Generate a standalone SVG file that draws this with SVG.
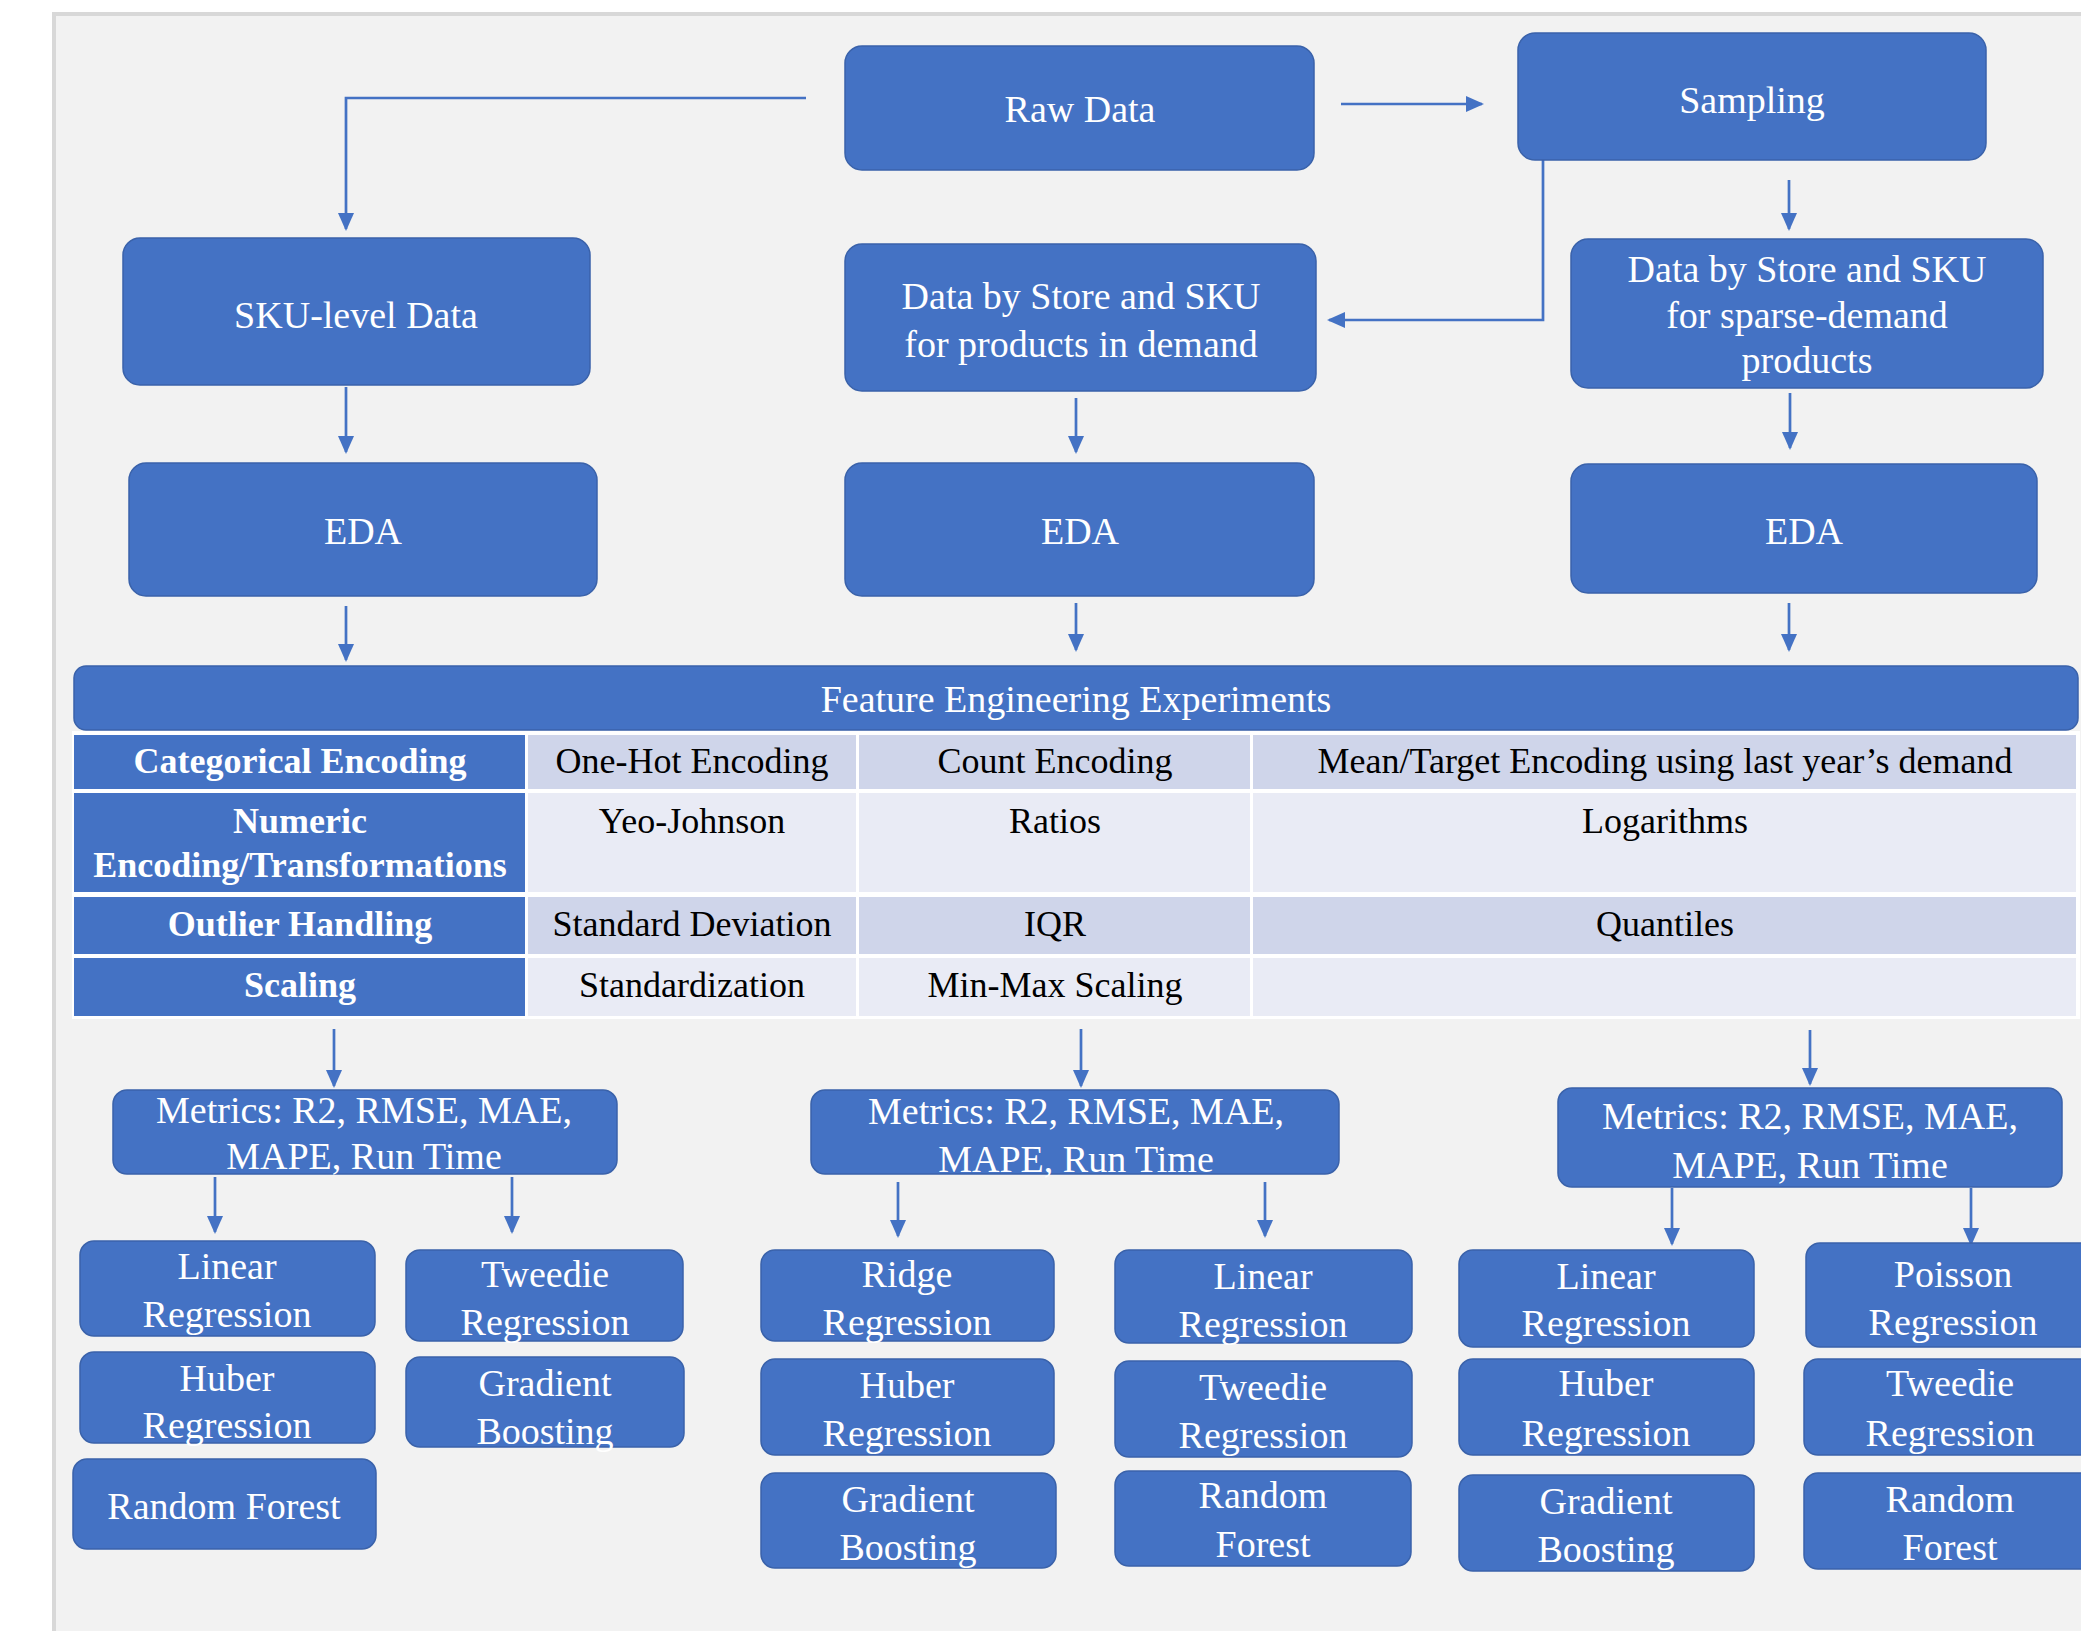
<svg xmlns="http://www.w3.org/2000/svg" width="2081" height="1631" viewBox="0 0 2081 1631">
<style>
.box{fill:#4472c4;stroke:#3a62aa;stroke-width:1.5}
.t{font-family:"Liberation Serif","Times New Roman",serif;font-size:38px;fill:#ffffff;text-anchor:middle}
.tc{font-family:"Liberation Serif","Times New Roman",serif;font-size:36px;fill:#000000;text-anchor:middle}
.th{font-family:"Liberation Serif","Times New Roman",serif;font-size:36px;font-weight:bold;fill:#ffffff;text-anchor:middle}
.hc{fill:#4472c4}
.dk{fill:#cfd5ea}
.lt{fill:#e9ebf5}
.con{fill:none;stroke:#4472c4;stroke-width:2.7;marker-end:url(#ah)}
</style>
<defs>
<marker id="ah" markerUnits="userSpaceOnUse" markerWidth="18" markerHeight="16" viewBox="0 0 18 16" refX="16" refY="8" orient="auto">
<path d="M0,0 L18,8 L0,16 z" fill="#4472c4"/>
</marker>
</defs>
<rect x="0" y="0" width="2081" height="1631" fill="#ffffff"/>
<rect x="54" y="14" width="2100" height="1700" fill="#f2f2f2" stroke="#d8d8d8" stroke-width="4"/>

<g id="connectors">
<path class="con" d="M806,98 H346 V229"/>
<path class="con" d="M1341,104 H1482"/>
<path class="con" d="M1543,160 V320 H1329"/>
<path class="con" d="M1789,180 V229"/>
<path class="con" d="M346,387 V452"/>
<path class="con" d="M1076,398 V452"/>
<path class="con" d="M1790,393 V448"/>
<path class="con" d="M346,606 V660"/>
<path class="con" d="M1076,603 V650"/>
<path class="con" d="M1789,603 V650"/>
<path class="con" d="M334,1029 V1086"/>
<path class="con" d="M1081,1029 V1086"/>
<path class="con" d="M1810,1030 V1084"/>
<path class="con" d="M215,1177 V1232"/>
<path class="con" d="M512,1177 V1232"/>
<path class="con" d="M898,1182 V1236"/>
<path class="con" d="M1265,1182 V1236"/>
<path class="con" d="M1672,1188 V1244"/>
<path class="con" d="M1971,1188 V1244"/>
</g>

<g id="raw-data">
<rect class="box" x="845" y="46" width="469" height="124" rx="17"/>
<text class="t" x="1080" y="122">Raw Data</text>
</g>
<g id="sampling">
<rect class="box" x="1518" y="33" width="468" height="127" rx="17"/>
<text class="t" x="1752" y="113">Sampling</text>
</g>
<g id="sku-level-data">
<rect class="box" x="123" y="238" width="467" height="147" rx="17"/>
<text class="t" x="356" y="328">SKU-level Data</text>
</g>
<g id="store-sku-demand">
<rect class="box" x="845" y="244" width="471" height="147" rx="17"/>
<text class="t" x="1081" y="309">Data by Store and SKU</text>
<text class="t" x="1081" y="357">for products in demand</text>
</g>
<g id="store-sku-sparse">
<rect class="box" x="1571" y="239" width="472" height="149" rx="17"/>
<text class="t" x="1807" y="282">Data by Store and SKU</text>
<text class="t" x="1807" y="328">for sparse-demand</text>
<text class="t" x="1807" y="373">products</text>
</g>
<g id="eda-1">
<rect class="box" x="129" y="463" width="468" height="133" rx="17"/>
<text class="t" x="363" y="544">EDA</text>
</g>
<g id="eda-2">
<rect class="box" x="845" y="463" width="469" height="133" rx="17"/>
<text class="t" x="1080" y="544">EDA</text>
</g>
<g id="eda-3">
<rect class="box" x="1571" y="464" width="466" height="129" rx="17"/>
<text class="t" x="1804" y="544">EDA</text>
</g>

<g id="feature-engineering-table">
<rect x="72" y="731" width="2008" height="288" fill="#ffffff"/>
<rect x="74" y="666" width="2004" height="64" rx="12" fill="#4472c4" stroke="#3a62aa" stroke-width="1.5"/>
<text class="t" x="1076" y="712">Feature Engineering Experiments</text>
<rect class="hc" x="74" y="735" width="451" height="54"/>
<rect class="dk" x="528" y="735" width="328" height="54"/>
<rect class="dk" x="859" y="735" width="391" height="54"/>
<rect class="dk" x="1253" y="735" width="823" height="54"/>
<rect class="hc" x="74" y="793" width="451" height="99"/>
<rect class="lt" x="528" y="793" width="328" height="99"/>
<rect class="lt" x="859" y="793" width="391" height="99"/>
<rect class="lt" x="1253" y="793" width="823" height="99"/>
<rect class="hc" x="74" y="897" width="451" height="57"/>
<rect class="dk" x="528" y="897" width="328" height="57"/>
<rect class="dk" x="859" y="897" width="391" height="57"/>
<rect class="dk" x="1253" y="897" width="823" height="57"/>
<rect class="hc" x="74" y="958" width="451" height="58"/>
<rect class="lt" x="528" y="958" width="328" height="58"/>
<rect class="lt" x="859" y="958" width="391" height="58"/>
<rect class="lt" x="1253" y="958" width="823" height="58"/>
<text class="th" x="300" y="773">Categorical Encoding</text>
<text class="tc" x="692" y="773">One-Hot Encoding</text>
<text class="tc" x="1055" y="773">Count Encoding</text>
<text class="tc" x="1665" y="773">Mean/Target Encoding using last year’s demand</text>
<text class="th" x="300" y="833">Numeric</text>
<text class="th" x="300" y="877">Encoding/Transformations</text>
<text class="tc" x="692" y="833">Yeo-Johnson</text>
<text class="tc" x="1055" y="833">Ratios</text>
<text class="tc" x="1665" y="833">Logarithms</text>
<text class="th" x="300" y="936">Outlier Handling</text>
<text class="tc" x="692" y="936">Standard Deviation</text>
<text class="tc" x="1055" y="936">IQR</text>
<text class="tc" x="1665" y="936">Quantiles</text>
<text class="th" x="300" y="997">Scaling</text>
<text class="tc" x="692" y="997">Standardization</text>
<text class="tc" x="1055" y="997">Min-Max Scaling</text>
</g>

<g id="metrics-1">
<rect class="box" x="113" y="1090" width="504" height="84" rx="14"/>
<text class="t" x="364" y="1123">Metrics: R2, RMSE, MAE,</text>
<text class="t" x="364" y="1169">MAPE, Run Time</text>
</g>
<g id="metrics-2">
<rect class="box" x="811" y="1090" width="528" height="84" rx="14"/>
<text class="t" x="1076" y="1124">Metrics: R2, RMSE, MAE,</text>
<text class="t" x="1076" y="1172">MAPE, Run Time</text>
</g>
<g id="metrics-3">
<rect class="box" x="1558" y="1088" width="504" height="99" rx="14"/>
<text class="t" x="1810" y="1129">Metrics: R2, RMSE, MAE,</text>
<text class="t" x="1810" y="1178">MAPE, Run Time</text>
</g>

<g id="m1-linear-regression">
<rect class="box" x="80" y="1241" width="295" height="95" rx="14"/>
<text class="t" x="227" y="1279">Linear</text>
<text class="t" x="227" y="1327">Regression</text>
</g>
<g id="m1-huber-regression">
<rect class="box" x="80" y="1352" width="295" height="91" rx="14"/>
<text class="t" x="227" y="1391">Huber</text>
<text class="t" x="227" y="1438">Regression</text>
</g>
<g id="m1-random-forest">
<rect class="box" x="73" y="1459" width="303" height="90" rx="14"/>
<text class="t" x="224" y="1519">Random Forest</text>
</g>
<g id="m1-tweedie-regression">
<rect class="box" x="406" y="1250" width="277" height="91" rx="14"/>
<text class="t" x="545" y="1287">Tweedie</text>
<text class="t" x="545" y="1335">Regression</text>
</g>
<g id="m1-gradient-boosting">
<rect class="box" x="406" y="1357" width="278" height="90" rx="14"/>
<text class="t" x="545" y="1396">Gradient</text>
<text class="t" x="545" y="1444">Boosting</text>
</g>

<g id="m2-ridge-regression">
<rect class="box" x="761" y="1250" width="293" height="91" rx="14"/>
<text class="t" x="907" y="1287">Ridge</text>
<text class="t" x="907" y="1335">Regression</text>
</g>
<g id="m2-huber-regression">
<rect class="box" x="761" y="1359" width="293" height="96" rx="14"/>
<text class="t" x="907" y="1398">Huber</text>
<text class="t" x="907" y="1446">Regression</text>
</g>
<g id="m2-gradient-boosting">
<rect class="box" x="761" y="1473" width="295" height="95" rx="14"/>
<text class="t" x="908" y="1512">Gradient</text>
<text class="t" x="908" y="1560">Boosting</text>
</g>
<g id="m2-linear-regression">
<rect class="box" x="1115" y="1250" width="297" height="93" rx="14"/>
<text class="t" x="1263" y="1289">Linear</text>
<text class="t" x="1263" y="1337">Regression</text>
</g>
<g id="m2-tweedie-regression">
<rect class="box" x="1115" y="1361" width="297" height="96" rx="14"/>
<text class="t" x="1263" y="1400">Tweedie</text>
<text class="t" x="1263" y="1448">Regression</text>
</g>
<g id="m2-random-forest">
<rect class="box" x="1115" y="1471" width="296" height="95" rx="14"/>
<text class="t" x="1263" y="1508">Random</text>
<text class="t" x="1263" y="1557">Forest</text>
</g>

<g id="m3-linear-regression">
<rect class="box" x="1459" y="1250" width="295" height="97" rx="14"/>
<text class="t" x="1606" y="1289">Linear</text>
<text class="t" x="1606" y="1336">Regression</text>
</g>
<g id="m3-huber-regression">
<rect class="box" x="1459" y="1359" width="295" height="96" rx="14"/>
<text class="t" x="1606" y="1396">Huber</text>
<text class="t" x="1606" y="1446">Regression</text>
</g>
<g id="m3-gradient-boosting">
<rect class="box" x="1459" y="1475" width="295" height="96" rx="14"/>
<text class="t" x="1606" y="1514">Gradient</text>
<text class="t" x="1606" y="1562">Boosting</text>
</g>
<g id="m3-poisson-regression">
<rect class="box" x="1806" y="1243" width="294" height="104" rx="14"/>
<text class="t" x="1953" y="1287">Poisson</text>
<text class="t" x="1953" y="1335">Regression</text>
</g>
<g id="m3-tweedie-regression">
<rect class="box" x="1804" y="1359" width="294" height="96" rx="14"/>
<text class="t" x="1950" y="1396">Tweedie</text>
<text class="t" x="1950" y="1446">Regression</text>
</g>
<g id="m3-random-forest">
<rect class="box" x="1804" y="1473" width="294" height="96" rx="14"/>
<text class="t" x="1950" y="1512">Random</text>
<text class="t" x="1950" y="1560">Forest</text>
</g>
</svg>
